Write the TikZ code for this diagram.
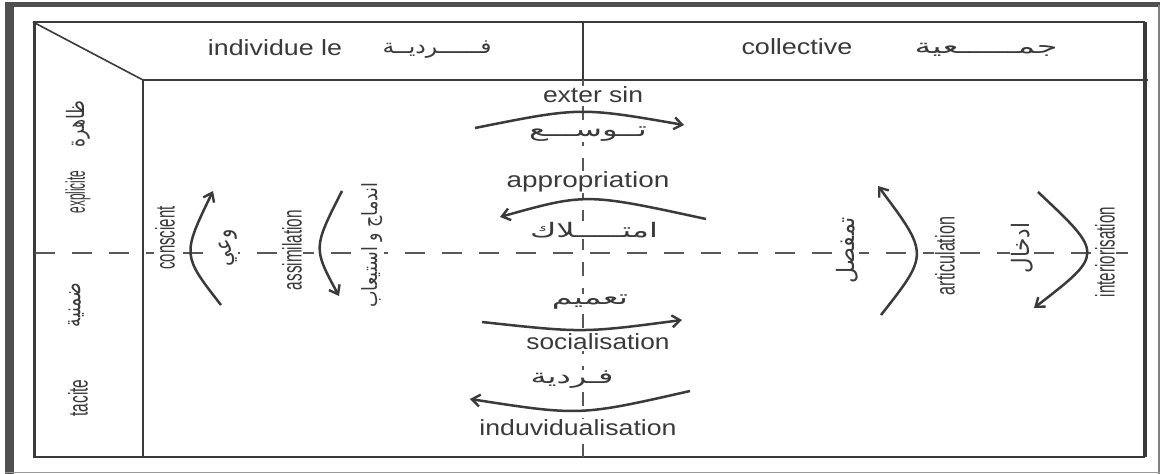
\documentclass[tikz,border=0pt]{standalone}
\usepackage{fontspec}
\usepackage{graphicx}
\setmainfont{Liberation Sans}
\newfontfamily\arabicfont[Script=Arabic]{DejaVu Sans}
\TeXXeTstate=1
\usetikzlibrary{arrows.meta}
\definecolor{ink}{HTML}{3A3A3A}
\definecolor{framec}{HTML}{505050}
\newcommand\fitw[2]{\resizebox{#1}{\height}{#2}}
\newcommand\artxt[1]{{\arabicfont\beginR #1\endR}}
\begin{document}
\begin{tikzpicture}[x=1pt,y=-1pt,
  lbl/.style={text=ink, font=\fontsize{22}{24}\selectfont, inner sep=1pt},
  albl/.style={text=ink, font=\fontsize{20}{24}\selectfont, inner sep=1pt},
  vlbl/.style={lbl, rotate=90, fill=white, font=\fontsize{27}{28}\selectfont},
  valbl/.style={albl, rotate=90, fill=white, font=\fontsize{24}{26}\selectfont},
  tline/.style={draw=ink, line width=1.6pt},
  dashline/.style={draw=ink!85, line width=1.2pt, dash pattern=on 20pt off 17pt},
  vdash/.style={draw=ink!85, line width=1.2pt, dash pattern=on 14pt off 12pt},
  flow/.style={draw=ink, line width=2.5pt, -{Straight Barb[length=8pt,width=12pt,line width=2.4pt]}}
]
\useasboundingbox (0,0) rectangle (1163,474);
\fill[white] (0,0) rectangle (1163,474);
% outer frame
\fill[framec] (5,2) rectangle (14,474);
\fill[framec] (5,2) rectangle (1160,7);
\draw[gray, line width=1.2pt] (1159,5) -- (1159,474);
\draw[gray!80, line width=1.5pt] (5,472.5) -- (1160,472.5);
% table corners
\coordinate (tl) at (33,22);
\coordinate (tr) at (1145,22);
\coordinate (bl) at (33,457);
\coordinate (br) at (1145,457);
\coordinate (hl) at (143,80);
\coordinate (hr) at (1148,80);
\coordinate (hm) at (583,22);
\coordinate (hmb) at (583,80);
\coordinate (cb) at (143,457);
\coordinate (mb) at (583,457);
\coordinate (dl) at (35,253);
\coordinate (dr) at (1143,253);
\draw[tline] (tl) -- (tr);
\draw[tline] (bl) -- (br);
\draw[draw=ink, line width=3pt] (34.5,22) -- (34.5,457);
\draw[draw=ink, line width=3.5pt] (br) -- (tr);
\draw[tline] (tl) -- (hl);
\draw[tline] (hl) -- (hr);
\draw[tline] (hl) -- (cb);
\draw[tline] (hm) -- (hmb);
\draw[dashline] (dl) -- (dr);
\draw[vdash] (hmb) -- (mb);
% header
\node[lbl] (indiv) at (275,48) {\fitw{134pt}{individue le}};
\node[albl] (fardiya) at (437,50) {\fitw{109pt}{\artxt{فــــــرديــة}}};
\node[lbl] (coll) at (797,47) {\fitw{111pt}{collective}};
\node[albl] (jamaiya) at (986,50) {\fitw{143pt}{\artxt{جمــــــعية}}};
% left column
\node[valbl] (zahira) at (78,124) {\fitw{47pt}{\artxt{ظاهرة}}};
\node[vlbl] (expl) at (78,192) {\fitw{43pt}{explicite}};
\node[valbl] (dimniya) at (76,305) {\fitw{44pt}{\artxt{ضمنية}}};
\node[vlbl] (tacite) at (78,398) {\fitw{37pt}{tacite}};
% central labels
\node[lbl, fill=white] (ext) at (593,95) {\fitw{100pt}{exter sin}};
\node[albl, fill=white] (tawassu) at (588,134) {\fitw{118pt}{\artxt{تــوســـع}}};
\node[lbl, fill=white] (appr) at (588,182) {\fitw{163pt}{appropriation}};
\node[albl, fill=white] (imtilak) at (594,230) {\fitw{128pt}{\artxt{امتـــــلاك}}};
\node[albl, fill=white] (taamim) at (590,302) {\fitw{76pt}{\artxt{تعميم}}};
\node[lbl, fill=white] (soc) at (598,342) {\fitw{143pt}{socialisation}};
\node[albl, fill=white] (fardiya2) at (572,380) {\fitw{83pt}{\artxt{فـردية}}};
\node[lbl, fill=white] (indv) at (578,428) {\fitw{197pt}{induvidualisation}};
% vertical labels
\node[vlbl] (consc) at (165,238) {\fitw{63pt}{conscient}};
\node[valbl] (wai) at (228,248) {\fitw{37pt}{\artxt{وعي}}};
\node[vlbl] (assim) at (292,250) {\fitw{80pt}{assimilation}};
\node[valbl, font=\fontsize{21}{24}\selectfont] (indimaj) at (372,245) {\fitw{125pt}{\artxt{اندماج و استيعاب}}};
\node[valbl] (tamafsul) at (847,250) {\fitw{66pt}{\artxt{تمفصل}}};
\node[vlbl] (artic) at (945,256) {\fitw{78pt}{articulation}};
\node[valbl] (idkhal) at (1022,248) {\fitw{51pt}{\artxt{ادخال}}};
\node[vlbl] (inter) at (1105,252) {\fitw{90pt}{interiorisation}};
% flow arcs
\coordinate (e1) at (475,128); \coordinate (e2) at (684,125);
\draw[flow] (e1) .. controls (580,107) .. (e2);
\coordinate (a1) at (706,219); \coordinate (a2) at (500,217);
\draw[flow] (a1) .. controls (586,193) .. (a2);
\coordinate (s1) at (482,322); \coordinate (s2) at (682,320);
\draw[flow] (s1) .. controls (583,333) .. (s2);
\coordinate (i1) at (690,391); \coordinate (i2) at (470,399);
\draw[flow] (i1) .. controls (580,416) .. (i2);
\coordinate (c1) at (221,305); \coordinate (c2) at (213,191);
\draw[flow] (c1) .. controls (182,255) .. (c2);
\coordinate (m1) at (342,191); \coordinate (m2) at (339,296);
\draw[flow] (m1) .. controls (313,248) .. (m2);
\coordinate (r1) at (881,315); \coordinate (r2) at (878,186);
\draw[flow] (r1) .. controls (929,254) .. (r2);
\coordinate (n1) at (1038,192); \coordinate (n2) at (1034,308);
\draw[flow] (n1) .. controls (1104,254) .. (n2);
\end{tikzpicture}
\end{document}
